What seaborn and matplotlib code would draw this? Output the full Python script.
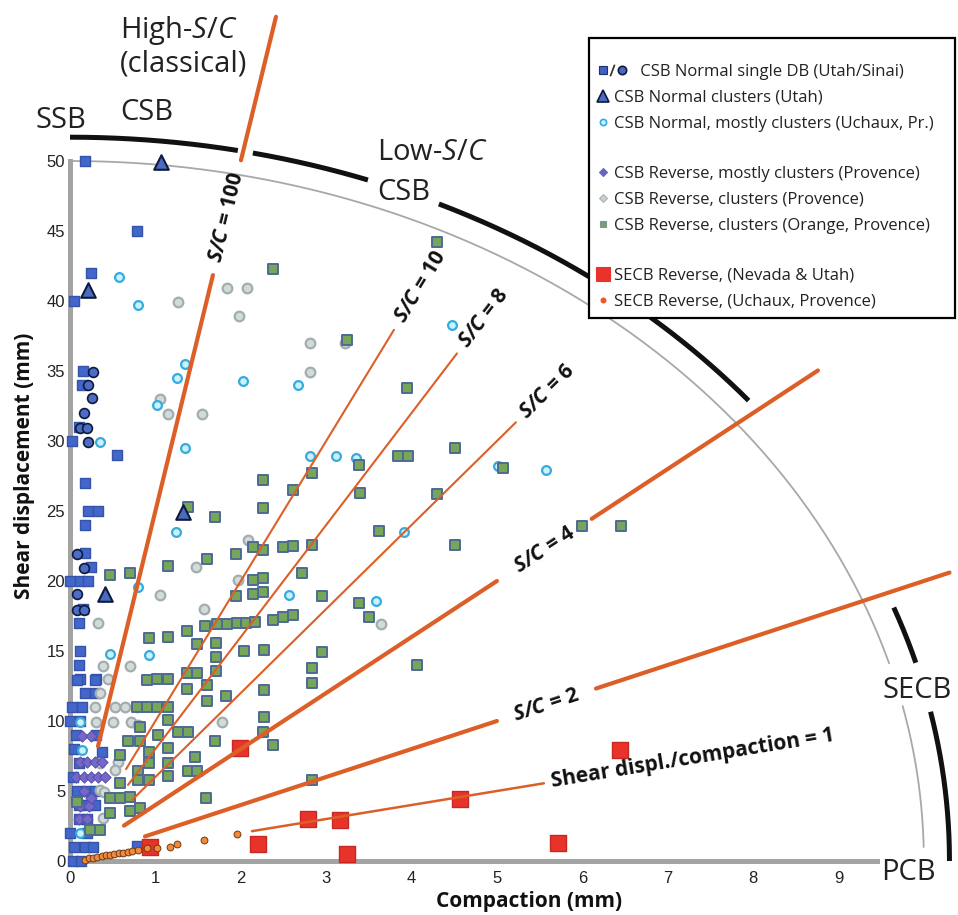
import numpy as np
import matplotlib
matplotlib.use('Agg')
import matplotlib.pyplot as plt
import seaborn as sns
from matplotlib.lines import Line2D
from matplotlib.legend_handler import HandlerBase

# ---- data (compaction mm, shear displacement mm) ----
utah_x = [0.18, 0.78, 0.25, 0.05, 0.15, 0.14, 0.10, 0.02, 0.55, 0.18, 0.21, 0.33, 0.18, 0.18, 0.25,
          0.00, 0.12, 0.21, 0.15, 0.10, 0.12, 0.10, 0.12, 0.31, 0.08, 0.29, 0.18, 0.29, 0.02, 0.14,
          0.00, 0.12, 0.07, 0.30, 0.05, 0.37, 0.10, 0.03, 0.08, 0.20, 0.29, 0.10, 0.20, 0.29, 0.10,
          0.20, 0.00, 0.20, 0.05, 0.17, 0.27, 0.78, 0.03, 0.13]
utah_y = [50.0, 45.0, 42.0, 40.0, 35.0, 34.0, 31.0, 30.0, 29.0, 27.0, 25.0, 25.0, 24.0, 22.0, 21.0,
          20.0, 20.0, 20.0, 18.0, 17.0, 15.0, 14.0, 13.0, 13.0, 12.9, 12.9, 12.0, 12.0, 11.0, 11.0,
          10.0, 10.0, 9.0, 9.0, 8.0, 7.8, 7.0, 6.0, 5.0, 5.0, 5.0, 4.0, 4.0, 4.0, 3.0,
          3.0, 2.0, 2.0, 1.0, 1.0, 1.0, 1.1, 0.0, 0.0]

sinai_x = [0.27, 0.21, 0.26, 0.16, 0.12, 0.20, 0.21, 0.08, 0.16, 0.08, 0.08, 0.16]
sinai_y = [34.9, 34.0, 33.1, 32.0, 30.9, 30.9, 29.9, 21.9, 20.9, 19.1, 17.9, 17.9]

clus_x = [1.07, 0.21, 1.32, 0.41]
clus_y = [49.9, 40.8, 24.9, 19.1]

uchaux_x = [0.57, 0.80, 1.35, 1.25, 1.02, 2.03, 2.67, 1.35, 0.35, 1.24, 0.80, 0.47, 0.92, 2.57,
            4.47, 2.81, 3.12, 3.35, 5.01, 5.58, 3.91, 3.58, 0.12, 0.14, 0.12]
uchaux_y = [41.7, 39.7, 35.5, 34.5, 32.6, 34.3, 34.0, 29.5, 29.9, 23.5, 19.6, 14.8, 14.7, 19.0,
            38.3, 28.9, 28.9, 28.8, 28.2, 27.9, 23.5, 18.6, 9.9, 7.9, 2.0]

rev_mostly_x = [0.14, 0.25, 0.12, 0.20, 0.29, 0.37, 0.07, 0.16, 0.25, 0.33, 0.41, 0.12, 0.22,
                0.10, 0.20, 0.16, 0.25]
rev_mostly_y = [8.9, 8.9, 7.1, 7.1, 7.1, 7.1, 6.0, 6.0, 6.0, 6.0, 6.0, 3.9, 3.9,
                3.0, 3.0, 5.0, 4.5]

rev_prov_x = [1.27, 1.84, 2.07, 1.98, 1.05, 1.15, 1.55, 2.81, 2.81, 3.22, 2.09, 0.33, 1.05, 1.47,
              1.57, 1.97, 0.39, 0.70, 0.44, 0.35, 0.29, 0.53, 0.64, 0.78, 0.30, 0.50, 0.71, 0.80,
              1.78, 0.35, 0.56, 0.53, 0.35, 0.39, 3.64, 0.40]
rev_prov_y = [39.9, 40.9, 40.9, 38.9, 33.0, 31.9, 31.9, 37.0, 34.9, 37.0, 22.9, 17.0, 19.0, 21.0,
              18.0, 20.1, 13.9, 13.9, 13.0, 12.0, 11.0, 11.0, 11.0, 11.0, 9.9, 9.9, 9.9, 9.7,
              9.9, 7.0, 7.1, 6.5, 5.1, 3.1, 16.9, 4.9]

orange_x = [4.30, 2.38, 3.24, 3.95, 4.51, 3.84, 3.96, 5.07, 3.38, 2.26, 2.61, 2.83, 2.26, 3.40,
            4.30, 1.70, 3.62, 4.51, 2.14, 2.50, 2.61, 2.83, 2.72, 6.00, 6.45, 2.95, 3.39, 3.50,
            2.95, 2.83, 2.83, 4.06, 0.47, 0.70, 1.15, 1.60, 1.38, 1.94, 2.26, 2.14, 2.26, 1.94,
            2.14, 2.26, 1.58, 1.72, 1.84, 1.96, 2.06, 2.17, 2.38, 2.49, 2.61, 1.37, 0.92, 1.15,
            1.49, 1.71, 1.71, 1.71, 2.04, 2.27, 0.90, 1.02, 1.15, 1.37, 1.49, 1.37, 1.60, 1.83,
            2.27, 2.27, 0.78, 0.90, 1.02, 1.15, 0.82, 1.15, 1.60, 2.26, 2.38, 1.70, 1.27, 1.38,
            1.15, 0.92, 1.03, 0.68, 0.82, 1.15, 1.46, 1.38, 1.49, 1.15, 0.92, 0.92, 0.80, 0.80,
            0.59, 0.59, 0.47, 0.59, 0.70, 0.70, 0.82, 0.47, 1.59, 2.83, 0.23, 0.35, 0.08]
orange_y = [44.2, 42.3, 37.2, 33.8, 29.5, 28.9, 28.9, 28.1, 28.3, 27.2, 26.5, 27.7, 25.2, 26.3,
            26.2, 24.6, 23.6, 22.6, 22.4, 22.4, 22.5, 22.6, 20.6, 23.9, 23.9, 18.9, 18.4, 17.4,
            14.9, 13.8, 12.7, 14.0, 20.4, 20.6, 21.1, 21.6, 25.3, 21.9, 22.2, 20.1, 20.2, 18.9,
            19.1, 19.2, 16.8, 16.9, 16.9, 17.0, 17.0, 17.1, 17.2, 17.4, 17.6, 16.4, 15.9, 16.0,
            15.5, 15.6, 14.6, 13.6, 15.0, 15.1, 12.9, 13.0, 13.0, 13.4, 13.4, 12.3, 12.6, 11.8,
            12.2, 10.3, 11.0, 11.0, 11.0, 11.0, 9.6, 10.1, 11.4, 9.2, 8.3, 8.6, 9.2, 9.2,
            8.1, 7.8, 9.0, 8.6, 8.6, 7.0, 7.4, 6.4, 6.4, 6.1, 7.0, 5.8, 6.4, 5.8,
            7.6, 5.6, 4.5, 4.5, 4.6, 3.6, 3.8, 3.4, 4.5, 5.8, 2.2, 2.2, 4.2]

secb_nev_x = [1.99, 2.79, 3.16, 4.57, 2.20, 3.24, 0.94, 6.44, 5.71]
secb_nev_y = [8.1, 3.0, 2.9, 4.4, 1.2, 0.5, 1.0, 7.9, 1.3]

secb_uch_x = [0.17, 0.22, 0.27, 0.32, 0.37, 0.42, 0.47, 0.52, 0.57, 0.62, 0.68, 0.73, 0.80,
              0.90, 1.02, 1.17, 1.25, 1.57, 1.95]
secb_uch_y = [0.1, 0.2, 0.25, 0.3, 0.35, 0.4, 0.45, 0.5, 0.55, 0.6, 0.65, 0.7, 0.8,
              0.9, 0.9, 1.0, 1.2, 1.5, 1.9]

# S/C guide lines: drawn slope (y/x in mm/mm), visible x-segments, label
sc_slopes = [25, 10, 8, 6, 4, 2, 1]
sc_segments = [[(0.328, 1.674), (2.002, 2.412)],
               [(0.656, 3.794)],
               [(0.679, 4.532)],
               [(0.726, 5.222)],
               [(0.632, 5.0), (6.11, 8.76)],
               [(0.878, 5.0), (6.16, 10.3)],
               [(2.131, 5.55)]]
sc_widths = [3.0, 1.5, 1.5, 1.5, 3.0, 3.0, 1.8]
sc_labels = [r'$\mathbfit{S/C}$ = 100', r'$\mathbfit{S/C}$ = 10', r'$\mathbfit{S/C}$ = 8',
             r'$\mathbfit{S/C}$ = 6', r'$\mathbfit{S/C}$ = 4', r'$\mathbfit{S/C}$ = 2',
             'Shear displ./compaction = 1']
sc_label_x = [1.838, 3.86, 4.60, 5.30, 5.555, 5.58, 5.64]
sc_label_ha = ['center', 'left', 'left', 'left', 'center', 'center', 'left']

legend_labels = ['      CSB Normal single DB (Utah/Sinai)', 'CSB Normal clusters (Utah)',
                 'CSB Normal, mostly clusters (Uchaux, Pr.)', ' ',
                 'CSB Reverse, mostly clusters (Provence)', 'CSB Reverse, clusters (Provence)',
                 'CSB Reverse, clusters (Orange, Provence)', ' ',
                 'SECB Reverse, (Nevada & Utah)', 'SECB Reverse, (Uchaux, Provence)']

sns.set_theme(style='white')
plt.rcParams['font.family'] = ['Open Sans', 'DejaVu Sans']
plt.rcParams['mathtext.fontset'] = 'custom'
plt.rcParams['mathtext.rm'] = 'Open Sans'
plt.rcParams['mathtext.it'] = 'Open Sans:italic'
plt.rcParams['mathtext.bf'] = 'Open Sans:bold'
plt.rcParams['mathtext.bfit'] = 'Open Sans:bold:italic'

fig = plt.figure(figsize=(9.58, 9.15), dpi=100)
ax = fig.add_axes([0, 0, 1, 1])
ax.set_xlim(-0.82, 10.40)
ax.set_ylim(-3.857, 61.5)

# zone boundaries (quarter ellipses)
def arc(a, b, t0, t1):
    t = np.radians(np.linspace(t0, t1, 200))
    return a * np.cos(t), b * np.sin(t)

for t0, t1 in [(90, 16.4), (12.8, 1.15)]:
    ax.plot(*arc(10.0, 50.0, t0, t1), color='#a8a8a8', lw=1.3, zorder=1)
for t0, t1 in [(90, 79.0), (78.0, 70.2), (65.2, 39.5), (20.5, 15.9), (11.9, 0)]:
    ax.plot(*arc(10.3, 51.7, t0, t1), color='#111111', lw=3.6, solid_capstyle='butt', zorder=1)

# data series
sns.scatterplot(x=utah_x, y=utah_y, ax=ax, marker='s', s=58, color='#4266c9',
                edgecolor='#3553a8', linewidth=1, legend=False, zorder=3)
sns.scatterplot(x=sinai_x, y=sinai_y, ax=ax, marker='o', s=50, color='#4d6cc4',
                edgecolor='#0d1a3d', linewidth=1.2, legend=False, zorder=3)
sns.scatterplot(x=rev_prov_x, y=rev_prov_y, ax=ax, marker='o', s=48, color='#d3dada',
                edgecolor='#a3adad', linewidth=1.6, legend=False, zorder=3)
sns.scatterplot(x=uchaux_x, y=uchaux_y, ax=ax, marker='o', s=40, color='#c6f3fd',
                edgecolor='#38aadc', linewidth=1.6, legend=False, zorder=3)
sns.scatterplot(x=rev_mostly_x, y=rev_mostly_y, ax=ax, marker='D', s=32, color='#7568c9',
                edgecolor='#5a50b0', linewidth=0.8, legend=False, zorder=3)
sns.scatterplot(x=orange_x, y=orange_y, ax=ax, marker='s', s=55, color='#77a65a',
                edgecolor='#4d6b94', linewidth=1.4, legend=False, zorder=3)
sns.scatterplot(x=clus_x, y=clus_y, ax=ax, marker='^', s=110, color='#4c6bbf',
                edgecolor='#0d1a3d', linewidth=1.5, legend=False, zorder=3)
sns.scatterplot(x=secb_nev_x, y=secb_nev_y, ax=ax, marker='s', s=125, color='#e8332a',
                edgecolor='#c42a22', linewidth=1, legend=False, zorder=3)
sns.scatterplot(x=secb_uch_x, y=secb_uch_y, ax=ax, marker='o', s=24, color='#f28a3a',
                edgecolor='#6a3a1a', linewidth=0.7, legend=False, zorder=3)

# S/C reference lines and labels
orange_line = '#dc5f28'
for k, segs, lw, lab, lx, ha in zip(sc_slopes, sc_segments, sc_widths, sc_labels,
                                     sc_label_x, sc_label_ha):
    for x0, x1 in segs:
        xs = np.array([x0, x1])
        sns.lineplot(x=xs, y=k * xs, ax=ax, color=orange_line, linewidth=lw,
                     sort=False, estimator=None, zorder=4)
    ax.text(lx, k * lx, lab, rotation=np.degrees(np.arctan(k)), transform_rotates_text=True,
            rotation_mode='anchor', ha=ha, va='center', fontsize=15, fontweight='bold',
            color='#111111', zorder=5)

# zone names
zone_kw = dict(fontsize=21, color='#222222', va='baseline', ha='left')
ax.text(-0.41, 52.36, 'SSB', **zone_kw)
ax.text(0.585, 58.79, r'High-$\mathit{S/C}$', **zone_kw)
ax.text(0.585, 56.4, '(classical)', **zone_kw)
ax.text(0.585, 52.93, 'CSB', **zone_kw)
ax.text(3.595, 50.07, r'Low-$\mathit{S/C}$', **zone_kw)
ax.text(3.595, 47.21, 'CSB', **zone_kw)
ax.text(9.52, 11.64, 'SECB', **zone_kw)
ax.text(9.50, -1.36, 'PCB', **zone_kw)

# axes styling
for side in ['top', 'right']:
    ax.spines[side].set_visible(False)
ax.spines['left'].set_position(('data', 0))
ax.spines['bottom'].set_position(('data', 0))
ax.spines['left'].set_bounds(0, 50)
ax.spines['bottom'].set_bounds(0, 9.45)
for side in ['left', 'bottom']:
    ax.spines[side].set_color('#a3a3a3')
    ax.spines[side].set_linewidth(3.6)
    ax.spines[side].set_zorder(2)
ax.set_xticks(range(0, 10))
ax.set_yticks(range(0, 51, 5))
ax.tick_params(axis='both', direction='out', length=2, width=1, color='#b0b0b0',
               labelsize=12, labelcolor='#222222')
ax.tick_params(axis='x', pad=5)
ax.tick_params(axis='y', pad=1.5)
for lbl in ax.get_xticklabels() + ax.get_yticklabels():
    lbl.set_fontfamily('Liberation Sans')

ax.set_xlabel('Compaction (mm)', fontsize=15, fontweight='bold', color='#111111')
ax.xaxis.set_label_coords(529 / 958, 1 - 902 / 915)
ax.xaxis.label.set_va('center')
ax.set_ylabel('Shear displacement (mm)', fontsize=15, fontweight='bold', color='#111111')
ax.yaxis.set_label_coords(25 / 958, 1 - 466 / 915)
ax.yaxis.label.set_va('center')


# legend
class HandlerSlashPair(HandlerBase):
    # square / circle drawn side by side, spilling into the padded label
    def create_artists(self, legend, orig_handle, xdescent, ydescent, width, height,
                       fontsize, trans):
        y = height / 2 - ydescent
        offsets = [width / 2, width / 2 + 6.5, width / 2 + 13.5]
        artists = []
        for h, x in zip(orig_handle, offsets):
            a = Line2D([x - xdescent], [y])
            a.update_from(h)
            a.set_transform(trans)
            artists.append(a)
        return artists


def mk(marker, ms, fc, ec, mew=0.8):
    return Line2D([], [], ls='none', marker=marker, markersize=ms, markerfacecolor=fc,
                  markeredgecolor=ec, markeredgewidth=mew)


spacer = Line2D([], [], ls='none')
handles = [(mk('s', 5.5, '#3f62c2', '#1d2f6e'), mk('$/$', 8, '#222222', '#222222', 0.3),
            mk('o', 6, '#4a68c0', '#111a3a', 1.2)),
           mk('^', 9, '#4c6bbf', '#0d1a3d', 1.2),
           mk('o', 4.5, '#c8f4ff', '#3aa9dd', 1.2),
           spacer,
           mk('D', 4.5, '#6a64c4', '#6a64c4'),
           mk('D', 4.5, '#c8d0cc', '#aab4b0'),
           mk('s', 5, '#7a9a82', '#7a9a82'),
           spacer,
           mk('s', 10, '#e8332a', '#e8332a'),
           mk('o', 3.5, '#f0552a', '#f0552a')]
leg = ax.legend(handles, legend_labels, loc='upper left',
                bbox_to_anchor=(589 / 958, 1 - 322 / 915, 366 / 958, 284 / 915), mode='expand',
                frameon=True, fancybox=False, edgecolor='black', framealpha=1, fontsize=12,
                handlelength=0.7, handletextpad=0.3, labelspacing=0.62, borderpad=0.5,
                borderaxespad=0, labelcolor='#222222', title=' ', title_fontsize=6,
                handler_map={tuple: HandlerSlashPair()})
leg.get_frame().set_linewidth(1.6)
leg.set_zorder(10)
for i in [3, 7]:
    leg.get_texts()[i].set_fontsize(4)

fig.savefig('out.png', dpi=100)
